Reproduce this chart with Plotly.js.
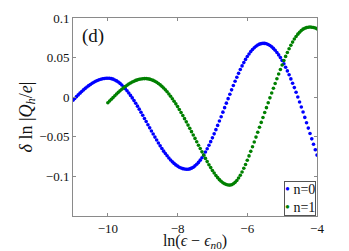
<!DOCTYPE html>
<html>
<head>
<meta charset="utf-8">
<script src="https://cdn.plot.ly/plotly-3.0.1.min.js"></script>
<style>html,body{margin:0;padding:0;background:#fff;}#chart{width:349px;height:251px;}</style>
</head>
<body>
<div id="chart"></div>
<script>
// ln(eps - eps_n0) sample grid
const xGrid = [
-11.00,-10.95,-10.90,-10.85,-10.80,-10.75,-10.70,-10.65,-10.60,-10.55,
-10.50,-10.45,-10.40,-10.35,-10.30,-10.25,-10.20,-10.15,-10.10,-10.05,
-10.00,-9.95,-9.90,-9.85,-9.80,-9.75,-9.70,-9.65,-9.60,-9.55,
-9.50,-9.45,-9.40,-9.35,-9.30,-9.25,-9.20,-9.15,-9.10,-9.05,
-9.00,-8.95,-8.90,-8.85,-8.80,-8.75,-8.70,-8.65,-8.60,-8.55,
-8.50,-8.45,-8.40,-8.35,-8.30,-8.25,-8.20,-8.15,-8.10,-8.05,
-8.00,-7.95,-7.90,-7.85,-7.80,-7.75,-7.70,-7.65,-7.60,-7.55,
-7.50,-7.45,-7.40,-7.35,-7.30,-7.25,-7.20,-7.15,-7.10,-7.05,
-7.00,-6.95,-6.90,-6.85,-6.80,-6.75,-6.70,-6.65,-6.60,-6.55,
-6.50,-6.45,-6.40,-6.35,-6.30,-6.25,-6.20,-6.15,-6.10,-6.05,
-6.00,-5.95,-5.90,-5.85,-5.80,-5.75,-5.70,-5.65,-5.60,-5.55,
-5.50,-5.45,-5.40,-5.35,-5.30,-5.25,-5.20,-5.15,-5.10,-5.05,
-5.00,-4.95,-4.90,-4.85,-4.80,-4.75,-4.70,-4.65,-4.60,-4.55,
-4.50,-4.45,-4.40,-4.35,-4.30,-4.25,-4.20,-4.15,-4.10,-4.05,
-4.00
];
// n=0 (blue), x from -11 to -4
const yN0 = [
-0.0039,-0.0016,0.0007,0.0029,0.0051,0.0072,0.0092,0.0111,0.0129,0.0146,
0.0161,0.0176,0.0189,0.0201,0.0211,0.0220,0.0227,0.0233,0.0237,0.0239,
0.0240,
0.0239,0.0234,0.0228,0.0218,0.0206,0.0191,0.0174,0.0154,0.0132,0.0108,
0.0081,0.0053,0.0023,-0.0009,-0.0043,-0.0077,-0.0113,-0.0151,-0.0190,-0.0228,
-0.0268,-0.0307,-0.0347,-0.0387,-0.0426,-0.0465,-0.0504,-0.0541,-0.0578,-0.0614,
-0.0648,-0.0681,-0.0711,-0.0740,-0.0767,-0.0793,-0.0816,-0.0836,-0.0855,-0.0870,
-0.0884,-0.0894,-0.0902,-0.0907,-0.0910,
-0.0909,-0.0905,-0.0896,-0.0884,-0.0867,-0.0847,-0.0823,-0.0795,-0.0764,-0.0729,
-0.0691,-0.0650,-0.0607,-0.0561,-0.0513,-0.0463,-0.0410,-0.0356,-0.0301,-0.0246,
-0.0189,-0.0132,-0.0075,-0.0018,0.0038,0.0093,0.0148,0.0201,0.0252,0.0301,
0.0349,0.0395,0.0437,0.0477,0.0513,0.0546,0.0576,0.0603,0.0625,0.0644,
0.0659,0.0670,0.0677,0.0680,
0.0679,0.0674,0.0665,0.0652,0.0636,0.0616,0.0592,0.0565,0.0534,0.0500,
0.0463,0.0422,0.0379,0.0332,0.0283,0.0231,0.0177,0.0121,0.0062,0.0002,
-0.0060,-0.0123,-0.0187,-0.0255,-0.0322,-0.0390,-0.0458,-0.0526,-0.0595,-0.0663,
-0.0731
];
// n=1 (green), x from -10 to -4
const yN1 = [
-0.0070,-0.0048,-0.0025,-0.0003,0.0019,0.0040,0.0061,0.0081,0.0100,0.0118,
0.0135,0.0151,0.0166,0.0179,0.0191,0.0202,0.0212,0.0219,0.0226,0.0230,
0.0233,0.0235,
0.0235,0.0232,0.0228,0.0221,0.0212,0.0201,0.0188,0.0173,0.0156,0.0137,
0.0116,0.0093,0.0068,0.0041,0.0012,-0.0019,-0.0051,-0.0084,-0.0119,-0.0155,
-0.0193,-0.0231,-0.0271,-0.0311,-0.0352,-0.0393,-0.0435,-0.0478,-0.0520,-0.0563,
-0.0606,-0.0648,-0.0690,-0.0732,-0.0773,-0.0813,-0.0852,-0.0889,-0.0925,-0.0958,
-0.0989,-0.1016,-0.1041,-0.1062,-0.1080,-0.1093,-0.1103,-0.1108,
-0.1110,-0.1105,-0.1093,-0.1075,-0.1051,-0.1021,-0.0985,-0.0944,-0.0898,-0.0849,
-0.0796,-0.0741,-0.0684,-0.0625,-0.0565,-0.0504,-0.0442,-0.0380,-0.0318,-0.0256,
-0.0194,-0.0132,-0.0070,-0.0008,0.0053,0.0113,0.0173,0.0233,0.0293,0.0350,
0.0407,0.0463,0.0515,0.0565,0.0612,0.0656,0.0696,0.0734,0.0767,0.0796,
0.0821,0.0842,0.0859,0.0871,0.0879,0.0884,0.0886,0.0884,0.0880,0.0873,
0.0863
];
const xN0 = xGrid;
const xN1 = xGrid.slice(xGrid.length - yN1.length);

const seriesNames = ['n=0', 'n=1'];
const seriesColors = ['#0000ff', '#008000'];
const xTickVals = [-10, -8, -6, -4];
const xTickText = ['\u221210', '\u22128', '\u22126', '\u22124'];
const yTickVals = [-0.1, -0.05, 0, 0.05, 0.1];
const yTickText = ['\u22120.1', '\u22120.05', '0', '0.05', '0.1'];

const FONT = 'Liberation Serif, Times New Roman, serif';

const traces = [
  {x: xN0, y: yN0, name: seriesNames[0], type: 'scatter', mode: 'markers',
   marker: {color: seriesColors[0], size: 3.6}, showlegend: false},
  {x: xN1, y: yN1, name: seriesNames[1], type: 'scatter', mode: 'markers',
   marker: {color: seriesColors[1], size: 3.6}, showlegend: false}
];

const axisCommon = {
  showgrid: false, zeroline: false, showline: true, mirror: 'ticks',
  linecolor: '#8a8a8a', linewidth: 1, ticks: 'inside', ticklen: 3,
  tickcolor: '#8a8a8a', tickfont: {family: FONT, size: 13, color: '#111'}
};

const legendText = seriesNames.map(function (nm, i) {
  return '<span style="color:' + seriesColors[i] + '">\u2022</span> ' + nm;
}).join('<br>');

const layout = {
  width: 349, height: 251,
  margin: {l: 73, r: 32, t: 18, b: 35},
  paper_bgcolor: '#fff', plot_bgcolor: '#fff',
  font: {family: FONT, color: '#111'},
  xaxis: Object.assign({}, axisCommon, {
    range: [-11, -4], tickvals: xTickVals, ticktext: xTickText,
    title: {text: 'ln(<i>\u03f5</i> \u2212 <i>\u03f5</i><sub><i>n</i>0</sub>)',
            font: {family: FONT, size: 16, color: '#111'}, standoff: 0}
  }),
  yaxis: Object.assign({}, axisCommon, {
    range: [-0.15, 0.1], tickvals: yTickVals, ticktext: yTickText,
    title: {text: '<i>\u03b4</i> ln |<i>Q</i><sub><i>h</i></sub>/<i>e</i>|',
            font: {family: FONT, size: 18, color: '#111'}, standoff: 2}
  }),
  annotations: [
    {xref: 'paper', yref: 'paper', x: 0.03, y: 0.91, xanchor: 'left', yanchor: 'middle',
     text: '(d)', showarrow: false, font: {family: FONT, size: 19, color: '#111'}},
    {xref: 'paper', yref: 'paper', x: 0.995, y: 0, xanchor: 'right', yanchor: 'bottom',
     align: 'left', showarrow: false, bgcolor: '#fff', bordercolor: '#555', borderwidth: 1, borderpad: 0,
     font: {family: FONT, size: 14, color: '#111'}, text: legendText}
  ]
};

Plotly.newPlot('chart', traces, layout, {displayModeBar: false, staticPlot: true});
</script>
</body>
</html>
